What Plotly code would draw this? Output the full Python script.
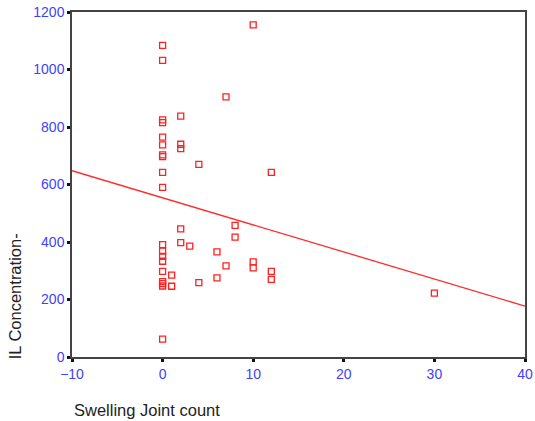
import plotly.graph_objects as go

# Data
swelling_joint_count = [10, 0, 0, 7, 2, 0, 0, 0, 0, 2, 2, 0, 0, 4, 0, 12, 0,
                        8, 2, 8, 0, 2, 3, 0, 6, 0, 0, 7, 10, 10, 0, 12, 1, 12,
                        6, 0, 0, 0, 1, 4, 0, 30]
il_concentration = [1155, 1084, 1032, 905, 838, 825, 815, 765, 738, 740, 725, 703,
                    697, 670, 642, 642, 590, 458, 446, 417, 391, 398, 386, 368,
                    366, 350, 333, 317, 331, 310, 298, 298, 285, 270, 275, 262,
                    255, 247, 246, 259, 62, 222]

fit_x = [-10, 40]
fit_y = [648, 177]

x_ticks = [-10, 0, 10, 20, 30, 40]
y_ticks = [0, 200, 400, 600, 800, 1000, 1200]

fig = go.Figure()
fig.add_trace(go.Scatter(
    x=swelling_joint_count, y=il_concentration, mode="markers",
    marker=dict(symbol="square-open", size=6, color="#ff2020",
                line=dict(width=1.3, color="#ff2020")),
    showlegend=False, cliponaxis=False))
fig.add_trace(go.Scatter(
    x=fit_x, y=fit_y, mode="lines",
    line=dict(color="#ff2a2a", width=1.3), showlegend=False))

axis_common = dict(showgrid=False, zeroline=False, showline=True, mirror=True,
                   automargin=False, ticklabeloverflow="allow",
                   linecolor="#444444", linewidth=1.5,
                   ticks="outside", ticklen=3, tickwidth=3, tickcolor="#111111",
                   tickfont=dict(family="Liberation Sans, Arial, sans-serif",
                                 size=14, color="#4040ff"))

fig.update_layout(
    width=535, height=421,
    margin=dict(l=72, r=10, t=12, b=64),
    paper_bgcolor="white", plot_bgcolor="white",
    xaxis=dict(range=[-10, 40], tickvals=x_ticks, **axis_common),
    yaxis=dict(range=[0, 1200], tickvals=y_ticks, **axis_common),
    annotations=[
        dict(text="Swelling Joint count", xref="paper", yref="paper",
             x=0, y=-0.155, xanchor="left", yanchor="middle", showarrow=False,
             font=dict(family="Liberation Sans, Arial, sans-serif", size=16.5,
                       color="#222222")),
        dict(text="IL Concentration-", xref="paper", yref="paper",
             x=-0.125, y=0.177, xanchor="center", yanchor="middle",
             textangle=-90, showarrow=False,
             font=dict(family="Liberation Sans, Arial, sans-serif", size=16.5,
                       color="#222222")),
    ],
)

fig.write_html("out.html", config={"displayModeBar": False},
               post_script="document.body.style.margin='0px';document.body.style.overflow='hidden';")
